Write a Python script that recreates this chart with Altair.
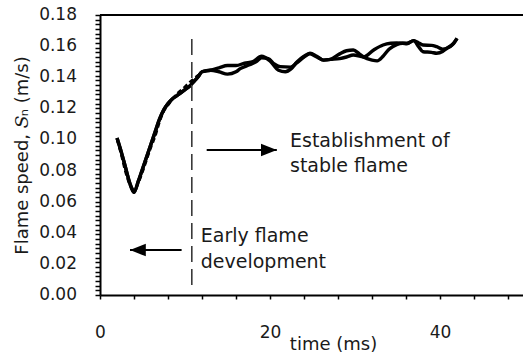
import altair as alt
import numpy as np
import pandas as pd

# ---- data ----
t_early = [2.0, 2.5, 3.0, 3.5, 4.0, 4.5, 5.0, 5.5, 6.0, 6.5, 7.0, 7.5, 8.0, 8.5, 9.0, 9.5, 10.0, 10.5, 11.0, 11.5]
s_early = [0.101, 0.092, 0.082, 0.072, 0.066, 0.073, 0.081, 0.089, 0.097, 0.105, 0.113, 0.119, 0.123, 0.126, 0.128,
           0.130, 0.132, 0.134, 0.137, 0.140]

t_dash = [2.0, 2.5, 3.0, 3.5, 4.0, 4.5, 5.0, 5.5, 6.0, 6.5, 7.0, 7.5, 8.0, 9.0, 10.0, 11.0, 12.0]
s_dash = [0.100, 0.090, 0.079, 0.071, 0.068, 0.072, 0.079, 0.087, 0.095, 0.102, 0.111, 0.118, 0.122, 0.129, 0.134,
          0.139, 0.143]

t_a = [12.0, 13.0, 14.0, 15.0, 16.0, 17.0, 18.0, 19.0, 20.0, 21.0, 21.8, 22.5, 23.2, 24.0, 24.7, 25.5, 26.3, 27.1,
       28.2, 29.0, 29.8, 30.5, 31.0, 32.0, 32.6, 33.3, 34.0, 34.9, 35.6, 36.1, 36.9, 37.5, 38.0, 39.0, 39.6, 40.3,
       40.8, 41.6, 42.0]
s_a = [0.1435, 0.1445, 0.146, 0.1475, 0.1475, 0.149, 0.150, 0.1535, 0.1505, 0.1445, 0.1435, 0.1455, 0.150, 0.1535,
       0.1555, 0.1535, 0.151, 0.1515, 0.155, 0.157, 0.1575, 0.155, 0.153, 0.151, 0.1505, 0.1535, 0.158, 0.161,
       0.1618, 0.1615, 0.1635, 0.162, 0.1607, 0.1605, 0.1596, 0.158, 0.1586, 0.1618, 0.165]

t_b = [12.0, 13.0, 14.0, 15.0, 16.0, 16.5, 17.6, 18.4, 19.0, 19.8, 20.5, 21.2, 22.4, 23.1, 24.0, 24.7, 25.5, 26.3,
       27.1, 28.2, 29.0, 29.8, 31.0, 32.2, 33.3, 34.2, 34.9, 36.1, 36.9, 37.5, 38.0, 39.0, 39.6, 40.3, 40.8, 41.6,
       42.0]
s_b = [0.1435, 0.1445, 0.1435, 0.142, 0.1435, 0.1455, 0.148, 0.150, 0.1525, 0.152, 0.1485, 0.1468, 0.1465, 0.149,
       0.153, 0.155, 0.153, 0.151, 0.1515, 0.152, 0.153, 0.1543, 0.153, 0.1575, 0.1607, 0.1618, 0.162, 0.1618,
       0.1635, 0.1595, 0.1564, 0.156, 0.1554, 0.1565, 0.1586, 0.1618, 0.165]

divider_t = [10.8]
divider_lo = [0.0065]
divider_hi = [0.165]

arrow_tail = [12.55, 9.6]
arrow_tip = [20.8, 3.53]
arrow_y = [0.0932, 0.0289]

note_lines = ["Establishment of", "stable flame", "Early flame", "development"]
note_t = [22.35, 22.35, 11.85, 11.85]
note_y = [0.0990, 0.0830, 0.0379, 0.0214]

x_ticks = [0, 4, 8, 12, 16, 20, 24, 28, 32, 36, 40, 44, 48]
y_major = [0.0, 0.02, 0.04, 0.06, 0.08, 0.10, 0.12, 0.14, 0.16, 0.18]
y_minor = [round(float(v), 3) for v in np.arange(0, 0.1801, 0.003)]

FONT = "DejaVu Sans"
INK = "#1a1a1a"

# ---- tables ----
solid = pd.concat([
    pd.DataFrame({"t": t_early + t_a, "v": s_early + s_a, "series": "A"}),
    pd.DataFrame({"t": t_early + t_b, "v": s_early + s_b, "series": "B"}),
])
dashed = pd.DataFrame({"t": t_dash, "v": s_dash})
divider = pd.DataFrame({"t": divider_t, "lo": divider_lo, "hi": divider_hi})
arrows = pd.DataFrame({"tail": arrow_tail, "tip": arrow_tip, "y": arrow_y})
notes = pd.DataFrame({"t": note_t, "y": note_y, "label": note_lines})
ylabels = pd.DataFrame({"v": y_major})

x_scale = alt.Scale(domain=[0, 49.76], nice=False, zero=False)
y_scale = alt.Scale(domain=[0, 0.18], nice=False, zero=False)

x_axis = alt.Axis(values=x_ticks, labelExpr="datum.value % 20 == 0 ? datum.label : ''",
                  tickSize=4, tickWidth=1.5, tickColor="black", domainColor="black", domainWidth=2,
                  labelFontSize=17, labelFont=FONT, labelColor=INK, labelBaseline="middle",
                  labelPadding=33, labelFlush=False, labelOverlap=False, grid=False,
                  title="time (ms)", titleFontSize=18, titleFont=FONT, titleFontWeight="normal",
                  titleColor=INK, titleX=233, titleY=49, titleAlign="center", titleBaseline="middle")

# y axis carries the dense minor ticks; its numbers are drawn by a text layer
y_axis = alt.Axis(orient="left", values=y_minor, labels=False, ticks=True, tickSize=5, tickWidth=1.5,
                  tickColor="black", domain=True, domainColor="black", domainWidth=2, grid=False,
                  title="Flame speed, 𝑆ₙ (m/s)", titleFontSize=18, titleFont=FONT,
                  titleFontWeight="normal", titleColor=INK, titleX=-78, titleY=140,
                  titleAlign="center", titleBaseline="middle", titleAngle=270)

lines = alt.Chart(solid).mark_line(color="black", strokeWidth=3.4, interpolate="monotone").encode(
    x=alt.X("t:Q", scale=x_scale, axis=x_axis),
    y=alt.Y("v:Q", scale=y_scale, axis=y_axis),
    detail="series:N",
    order="t:Q",
)

ylab = alt.Chart(ylabels).mark_text(align="right", baseline="middle", font=FONT, fontSize=17,
                                    color=INK).encode(
    x=alt.value(-23),
    y=alt.Y("v:Q", scale=y_scale, axis=None),
    text=alt.Text("v:Q", format=".2f"),
)

dash_line = alt.Chart(dashed).mark_line(color="black", strokeWidth=2.5, strokeDash=[5, 3],
                                        interpolate="monotone").encode(
    x=alt.X("t:Q", scale=x_scale, axis=None),
    y=alt.Y("v:Q", scale=y_scale, axis=None),
    order="t:Q",
)

div_rule = alt.Chart(divider).mark_rule(color="#3a3a3a", strokeWidth=1.6, strokeDash=[16, 7]).encode(
    x=alt.X("t:Q", scale=x_scale, axis=None),
    y=alt.Y("lo:Q", scale=y_scale, axis=None),
    y2="hi:Q",
)

arrow_shaft = alt.Chart(arrows).mark_rule(color="black", strokeWidth=2).encode(
    x=alt.X("tail:Q", scale=x_scale, axis=None),
    x2="tip:Q",
    y=alt.Y("y:Q", scale=y_scale, axis=None),
)

head_right = alt.Chart(arrows).transform_filter("datum.tip > datum.tail").mark_point(
    shape="M -2 -0.8 L 0 0 L -2 0.8 Z", filled=True, color="black", opacity=1, size=250, strokeWidth=0
).encode(
    x=alt.X("tip:Q", scale=x_scale, axis=None),
    y=alt.Y("y:Q", scale=y_scale, axis=None),
)

head_left = alt.Chart(arrows).transform_filter("datum.tip < datum.tail").mark_point(
    shape="M 2 -0.8 L 0 0 L 2 0.8 Z", filled=True, color="black", opacity=1, size=250, strokeWidth=0
).encode(
    x=alt.X("tip:Q", scale=x_scale, axis=None),
    y=alt.Y("y:Q", scale=y_scale, axis=None),
)

text = alt.Chart(notes).mark_text(align="left", baseline="middle", font=FONT, fontSize=19, color=INK).encode(
    x=alt.X("t:Q", scale=x_scale, axis=None),
    y=alt.Y("y:Q", scale=y_scale, axis=None),
    text="label:N",
)

top_border = alt.Chart(divider).mark_rule(color="black", strokeWidth=2).encode(
    x=alt.value(0), x2=alt.value(423), y=alt.value(0)
)

chart = alt.layer(lines, ylab, dash_line, div_rule, arrow_shaft, head_right, head_left, text,
                  top_border).resolve_axis(
    y="independent", x="independent"
).properties(
    width=423, height=280,
    autosize=alt.AutoSizeParams(type="none"),
    padding={"left": 100, "top": 15, "right": 0, "bottom": 62},
    background="white",
).configure_view(stroke=None)

chart.save("out.html", embed_options={"renderer": "svg", "actions": False})
